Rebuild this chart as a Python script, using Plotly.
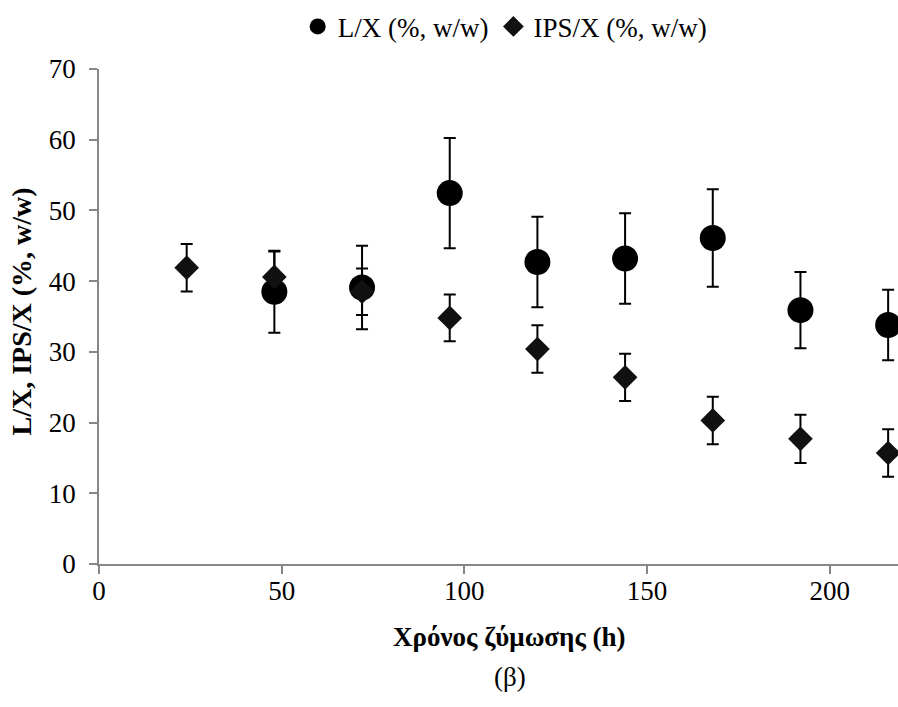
import plotly.graph_objects as go

# Data
time_lx = [48, 72, 96, 120, 144, 168, 192, 216]
lx = [38.5, 39.1, 52.45, 42.7, 43.2, 46.1, 35.9, 33.8]
lx_err = [5.8, 5.9, 7.8, 6.4, 6.4, 6.9, 5.4, 5.0]

time_ips = [24, 48, 72, 96, 120, 144, 168, 192, 216]
ips = [41.9, 40.6, 38.5, 34.8, 30.4, 26.4, 20.3, 17.7, 15.7]
ips_err = [3.35, 3.6, 3.3, 3.3, 3.35, 3.35, 3.35, 3.4, 3.35]

x_ticks = [0, 50, 100, 150, 200]
y_ticks = [0, 10, 20, 30, 40, 50, 60, 70]

FONT = "Liberation Serif"

fig = go.Figure()
fig.add_trace(go.Scatter(
    x=time_lx, y=lx, mode="markers", name="L/X (%, w/w)",
    marker=dict(symbol="circle", size=26, color="black"),
    error_y=dict(type="data", array=lx_err, visible=True, color="black",
                 thickness=2, width=6),
))
fig.add_trace(go.Scatter(
    x=time_ips, y=ips, mode="markers", name="IPS/X (%, w/w)",
    marker=dict(symbol="diamond", size=19, color="#111111"),
    error_y=dict(type="data", array=ips_err, visible=True, color="black",
                 thickness=2, width=6),
))

axis_common = dict(
    showgrid=False, zeroline=False, showline=True, linecolor="#878787",
    linewidth=1.5, ticks="outside", tickcolor="#878787", ticklen=8,
    tickwidth=1.5, tickfont=dict(family=FONT, size=27, color="black"),
)

fig.update_layout(
    width=898, height=707,
    margin=dict(l=99, r=0, t=69, b=143),
    paper_bgcolor="white", plot_bgcolor="white",
    font=dict(family=FONT, color="black"),
    showlegend=True,
    legend=dict(orientation="h", xref="container", x=0.562, xanchor="center",
                yref="container", y=0.962, yanchor="middle",
                font=dict(family=FONT, size=27, color="black"),
                itemwidth=30, tracegroupgap=0),
    xaxis=dict(range=[0, 218.7], tickvals=x_ticks, ticklabelstandoff=-6,
               **axis_common),
    yaxis=dict(range=[0, 70], tickvals=y_ticks, ticklabelstandoff=8,
               **axis_common),
    annotations=[
        dict(text="<b>Χρόνος ζύμωσης (h)</b>", xref="paper", yref="paper",
             x=0.514, y=-0.1475, xanchor="center", yanchor="middle",
             showarrow=False, font=dict(family=FONT, size=27, color="black")),
        dict(text="<b>L/X, IPS/X (%, w/w)</b>", xref="paper", yref="paper",
             x=-0.0964, y=0.51, xanchor="center", yanchor="middle", textangle=-90,
             showarrow=False, font=dict(family=FONT, size=28, color="black")),
        dict(text="(β)", xref="paper", yref="paper",
             x=0.514, y=-0.229, xanchor="center", yanchor="middle",
             showarrow=False, font=dict(family=FONT, size=27, color="black")),
    ],
)

fig.write_html("out.html")
